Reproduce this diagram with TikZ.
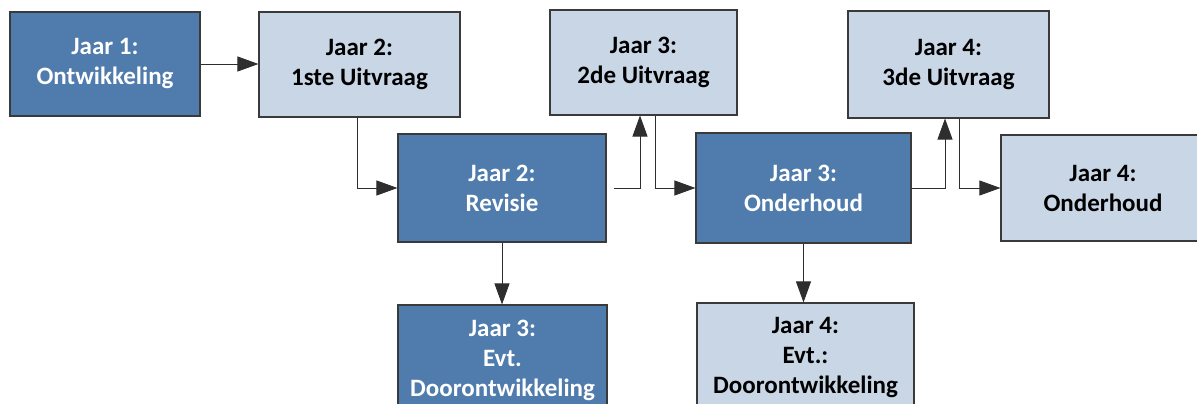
\documentclass[tikz,border=0pt]{standalone}
\usepackage{fontspec}
\setmainfont{Carlito}
\usetikzlibrary{arrows.meta}
\definecolor{darkfase}{RGB}{79,123,173}
\definecolor{lightfase}{RGB}{201,214,230}
\definecolor{rand}{RGB}{58,58,58}
\begin{document}
\begin{tikzpicture}[x=1pt,y=-1pt,
    fase/.style={draw=rand,line width=1.1pt,align=center,inner sep=0pt,
      font=\fontsize{25}{30}\selectfont\bfseries},
    donker/.style={fase,fill=darkfase,text=white},
    licht/.style={fase,fill=lightfase,text=black},
    link/.style={draw=rand!80!black,line width=0.9pt,-{Triangle[length=21pt,width=15pt]}}]
                \useasboundingbox (0,0) rectangle (1197,404);
                % bovenste rij
                \node [donker,minimum width=190pt,minimum height=104pt] (j1ontw) at (105,64) {Jaar 1:\\Ontwikkeling};
                \node [licht,minimum width=201pt,minimum height=105pt] (j2uit) at (359.5,64.5) {Jaar 2:\\1ste Uitvraag};
                \node [licht,minimum width=187pt,minimum height=105pt] (j3uit) at (643.5,62.5) {Jaar 3:\\2de Uitvraag};
                \node [licht,minimum width=201pt,minimum height=107pt] (j4uit) at (948.5,64.5) {Jaar 4:\\3de Uitvraag};
                % middelste rij
                \node [donker,minimum width=208pt,minimum height=108pt] (j2rev) at (502,188) {Jaar 2:\\Revisie};
                \node [donker,minimum width=215pt,minimum height=110pt] (j3ond) at (803.5,188) {Jaar 3:\\Onderhoud};
                \node [licht,minimum width=204pt,minimum height=106pt] (j4ond) at (1103,188) {Jaar 4:\\Onderhoud};
                % onderste rij
                \node [donker,minimum width=209pt,minimum height=110pt] (j3door) at (502.5,360) {Jaar 3:\\Evt.\\Doorontwikkeling};
                \node [licht,minimum width=217pt,minimum height=110pt] (j4door) at (805.5,358) {Jaar 4:\\Evt.:\\Doorontwikkeling};
                % pijlen
                \draw [link] (j1ontw.east) -- (j1ontw.east -| j2uit.west);
                \draw [link] ([xshift=-2.5pt]j2uit.south) |- (j2rev.west);
                \draw [link] ([xshift=7pt]j2rev.east) -| ([xshift=-3.5pt]j3uit.south);
                \draw [link] ([xshift=11.5pt]j3uit.south) |- (j3ond.west);
                \draw [link] (j3ond.east) -| ([xshift=-3.5pt]j4uit.south);
                \draw [link] ([xshift=10.5pt]j4uit.south) |- (j4ond.west);
                \draw [link] (j2rev.south) -- (j2rev.south |- j3door.north);
                \draw [link] (j3ond.south) -- (j3ond.south |- j4door.north);
\end{tikzpicture}
\end{document}
